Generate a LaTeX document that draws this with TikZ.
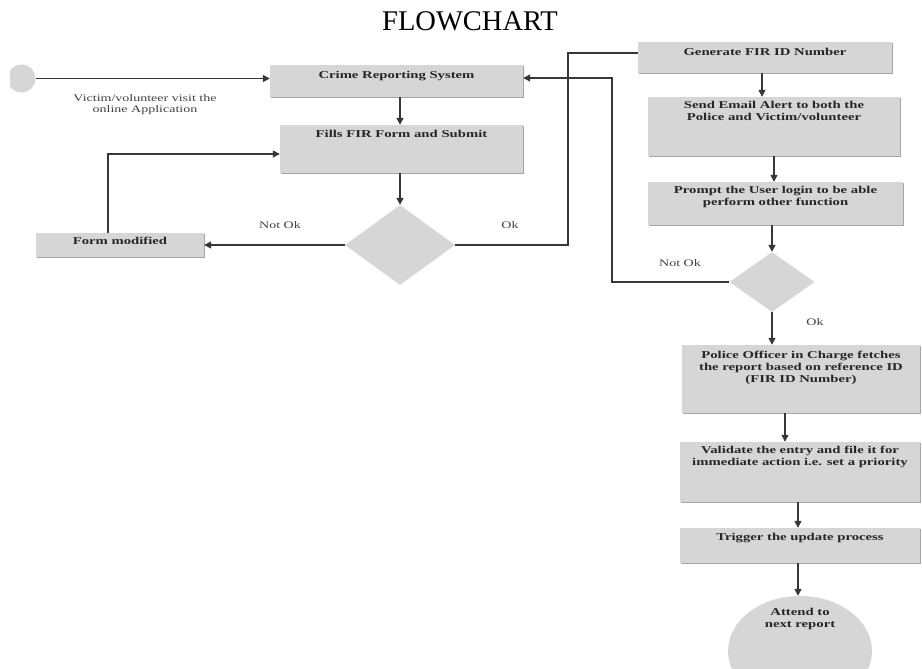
\documentclass[tikz,border=0pt]{standalone}
\usepackage{fontspec}
\setmainfont{Liberation Serif}
\newfontfamily\flowfont[FakeStretch=1.4]{Liberation Serif}
\usetikzlibrary{shapes.geometric,arrows.meta,shadows}
\definecolor{boxgray}{RGB}{214,214,214}
\definecolor{linegray}{RGB}{55,55,55}
\begin{document}
\begin{tikzpicture}[x=1pt,y=-1pt,
    stepbox/.style={fill=boxgray,draw=none,inner sep=0pt,
      drop shadow={shadow xshift=0.8pt,shadow yshift=-1.2pt,fill=black!35,opacity=1}},
    boxtext/.style={anchor=north,inner sep=0pt,align=center,text=black!85,
      font=\flowfont\fontsize{10.5}{12}\selectfont\bfseries},
    decision/.style={diamond,fill=boxgray,inner sep=0pt},
    flowarrow/.style={-{Triangle[length=7pt,width=7pt]},line width=1.4pt,draw=linegray},
    flowline/.style={line width=1.4pt,draw=linegray},
    note/.style={align=center,text=black!75,
      font=\flowfont\fontsize{10}{11}\selectfont}]
  \useasboundingbox (0,0) rectangle (922,669);

  \node[font=\fontsize{28.5}{30}\selectfont] (title) at (470,21) {FLOWCHART};

  % left column
  \begin{scope}
    \clip (10,40) rectangle (60,120);
    \node[circle,fill=boxgray,minimum size=28pt,inner sep=0pt] (start) at (21.5,78.5) {};
  \end{scope}
  \node[stepbox,minimum width=253,minimum height=32,
        label={[boxtext,yshift=-6pt]north:Crime Reporting System}] (crime) at (396.5,81) {};
  \node[stepbox,minimum width=243,minimum height=48,
        label={[boxtext,yshift=-5pt]north:Fills FIR Form and Submit}] (fills) at (401.5,149) {};
  \node[decision,minimum width=110,minimum height=80] (check) at (400,245) {};
  \node[stepbox,minimum width=168,minimum height=24,
        label={[boxtext,yshift=-4pt]north:Form modified}] (modified) at (120,245) {};

  % right column
  \node[stepbox,minimum width=254,minimum height=31,
        label={[boxtext,yshift=-6pt]north:Generate FIR ID Number}] (generate) at (765,57.5) {};
  \node[stepbox,minimum width=252,minimum height=59,
        label={[boxtext,yshift=-4pt]north:{Send Email Alert to both the\\Police and Victim/volunteer}}] (email) at (774,126.5) {};
  \node[stepbox,minimum width=255,minimum height=43,
        label={[boxtext,yshift=-4pt]north:{Prompt the User login to be able\\perform other function}}] (prompt) at (775.5,203.5) {};
  \node[decision,minimum width=85,minimum height=60] (login) at (772,282) {};
  \node[stepbox,minimum width=238,minimum height=68,
        label={[boxtext,yshift=-6pt]north:{Police Officer in Charge fetches\\the report based on reference ID\\(FIR ID Number)}}] (police) at (801,379) {};
  \node[stepbox,minimum width=240,minimum height=60,
        label={[boxtext,yshift=-4pt]north:{Validate the entry and file it for\\immediate action i.e. set a priority}}] (validate) at (800,472) {};
  \node[stepbox,minimum width=240,minimum height=35,
        label={[boxtext,yshift=-5pt]north:Trigger the update process}] (trigger) at (800,545.5) {};
  \begin{scope}
    \clip (0,0) rectangle (922,669);
    \node[ellipse,fill=boxgray,inner sep=0pt,minimum width=144,minimum height=110,
          label={[boxtext,yshift=-12pt]north:{Attend to\\next report}}] (attend) at (800,651) {};
  \end{scope}

  % connectors
  \draw[flowarrow] (start.east) -- (start.east -| crime.west);
  \node[note] (visit) at (145,105) {Victim/volunteer visit the\\online Application};
  \draw[flowarrow] ([xshift=3.5pt]crime.south) -- ([xshift=3.5pt]crime.south |- fills.north);
  \draw[flowarrow] (check.north |- fills.south) -- (check.north);
  \draw[flowarrow] (check.west) -- (check.west -| modified.east);
  \node[note] (notok1) at (280,225) {Not Ok};
  \draw[flowarrow] ([xshift=-12pt]modified.north) |- ([yshift=-5pt]fills.west);
  \coordinate (okturn) at (568,53);
  \draw[flowline] (check.east) -| (okturn) -- (okturn -| generate.west);
  \node[note] (ok1) at (510,225) {Ok};

  \draw[flowarrow] ([xshift=-3pt]generate.south) -- ([xshift=-3pt]generate.south |- email.north);
  \draw[flowarrow] (email.south) -- (email.south |- prompt.north);
  \draw[flowarrow] (login.north |- prompt.south) -- (login.north);
  \coordinate (notokturn) at (612,78);
  \draw[flowarrow] (login.west) -| (notokturn) -- (notokturn -| crime.east);
  \node[note] (notok2) at (680,263) {Not Ok};
  \draw[flowarrow] (login.south) -- (login.south |- police.north);
  \node[note] (ok2) at (815,322) {Ok};
  \draw[flowarrow] ([xshift=-16pt]police.south) -- ([xshift=-16pt]police.south |- validate.north);
  \draw[flowarrow] ([xshift=-2pt]validate.south) -- ([xshift=-2pt]validate.south |- trigger.north);
  \draw[flowarrow] ([xshift=-2pt]trigger.south) -- ([xshift=-2pt]trigger.south |- attend.north);
\end{tikzpicture}
\end{document}
